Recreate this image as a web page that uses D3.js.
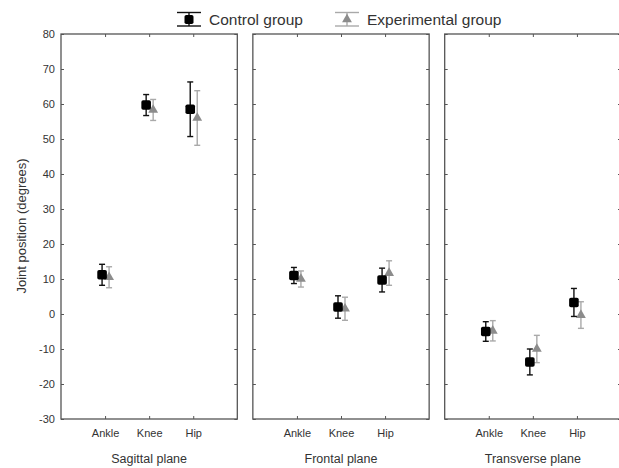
<!DOCTYPE html>
<html>
<head>
<meta charset="utf-8">
<script src="https://cdn.jsdelivr.net/npm/d3@7"></script>
<style>
  body { margin: 0; background: #fff; }
  svg { font-family: "Liberation Sans", Arial, sans-serif; }
</style>
</head>
<body>
<div id="chart"></div>
<script>
var planes = ["Sagittal plane", "Frontal plane", "Transverse plane"];
var joints = ["Ankle", "Knee", "Hip"];
var yTicks = [-30, -20, -10, 0, 10, 20, 30, 40, 50, 60, 70, 80];

// mean and error per plane (rows) and joint (columns)
var controlMean = [[11.2, 59.7, 58.5], [11.0, 2.0, 9.7], [-5.0, -13.7, 3.3]];
var controlErr  = [[3.0, 3.0, 7.8], [2.3, 3.2, 3.4], [2.8, 3.7, 4.0]];
var expMean     = [[10.5, 58.3, 56.0], [10.0, 1.5, 11.7], [-4.8, -10.0, -0.3]];
var expErr      = [[3.0, 3.0, 7.8], [2.3, 3.3, 3.5], [2.9, 3.9, 3.8]];

var width = 619, height = 468;

var svg = d3.select("#chart")
  .append("svg")
    .attr("width", width)
    .attr("height", height);

var y = d3.scaleLinear()
  .domain([-30, 80])
  .range([419, 34]);

var panelX = d3.scaleBand()
  .domain(planes)
  .range([61, 621])
  .paddingInner(0.081)
  .paddingOuter(0);

var bw = panelX.bandwidth();

var x = d3.scalePoint()
  .domain(joints)
  .range([0, bw])
  .padding(1);

var frameColor = "#555";
var textColor = "#333";

var series = [
  { name: "Control group", mean: controlMean, err: controlErr, dx: -3, line: "#111", cap: 3 },
  { name: "Experimental group", mean: expMean, err: expErr, dx: 4, line: "#a9a9a9", cap: 3 }
];

planes.forEach(function(p, pi) {
  var g = svg.append("g")
    .attr("transform", "translate(" + panelX(p) + ",0)");

  g.append("rect")
    .attr("x", 0)
    .attr("y", y(80))
    .attr("width", bw)
    .attr("height", y(-30) - y(80))
    .attr("fill", "none")
    .attr("stroke", frameColor)
    .attr("stroke-width", 1.3);

  // left axis (labels only in first panel), plain hyphen for negatives
  var left = g.append("g")
    .call(d3.axisLeft(y).tickValues(yTicks).tickSize(-3).tickPadding(6)
      .tickFormat(function(d) { return String(d); }));
  left.select(".domain").remove();
  left.selectAll("line").attr("stroke", frameColor);
  left.selectAll("text")
    .attr("fill", textColor)
    .style("font-size", "11px")
    .style("display", pi === 0 ? null : "none");

  var right = g.append("g")
    .attr("transform", "translate(" + bw + ",0)")
    .call(d3.axisRight(y).tickValues(yTicks).tickSize(-3).tickFormat(""));
  right.select(".domain").remove();
  right.selectAll("line").attr("stroke", frameColor);

  var bottom = g.append("g")
    .attr("transform", "translate(0," + y(-30) + ")")
    .call(d3.axisBottom(x).tickSize(-3).tickPadding(10));
  bottom.select(".domain").remove();
  bottom.selectAll("line").attr("stroke", frameColor);
  bottom.selectAll("text")
    .attr("fill", textColor)
    .style("font-size", "11px");

  var top = g.append("g")
    .attr("transform", "translate(0," + y(80) + ")")
    .call(d3.axisTop(x).tickSize(-3).tickFormat(""));
  top.select(".domain").remove();
  top.selectAll("line").attr("stroke", frameColor);

  g.append("text")
    .attr("x", bw / 2)
    .attr("y", 463)
    .attr("text-anchor", "middle")
    .attr("fill", textColor)
    .style("font-size", "12.5px")
    .text(p);

  // draw experimental first, control on top
  series.slice().reverse().forEach(function(s) {
    var pts = joints.map(function(j, ji) {
      return { joint: j, m: s.mean[pi][ji], e: s.err[pi][ji] };
    });
    var sg = g.append("g");
    var cx = function(d) { return x(d.joint) + s.dx; };

    sg.selectAll(".bar")
      .data(pts)
      .enter()
      .append("line")
        .attr("x1", cx).attr("x2", cx)
        .attr("y1", function(d) { return y(d.m + d.e); })
        .attr("y2", function(d) { return y(d.m - d.e); })
        .attr("stroke", s.line)
        .attr("stroke-width", 1.4);

    [1, -1].forEach(function(sign) {
      sg.selectAll(".cap" + sign)
        .data(pts)
        .enter()
        .append("line")
          .attr("x1", function(d) { return cx(d) - s.cap; })
          .attr("x2", function(d) { return cx(d) + s.cap; })
          .attr("y1", function(d) { return y(d.m + sign * d.e); })
          .attr("y2", function(d) { return y(d.m + sign * d.e); })
          .attr("stroke", s.line)
          .attr("stroke-width", 1.4);
    });

    if (s.name === "Control group") {
      sg.selectAll(".mark")
        .data(pts)
        .enter()
        .append("rect")
          .attr("x", function(d) { return cx(d) - 4.8; })
          .attr("y", function(d) { return y(d.m) - 4.8; })
          .attr("width", 9.6)
          .attr("height", 9.6)
          .attr("rx", 1.8)
          .attr("fill", "#000");
    } else {
      sg.selectAll(".mark")
        .data(pts)
        .enter()
        .append("path")
          .attr("transform", function(d) { return "translate(" + cx(d) + "," + y(d.m) + ")"; })
          .attr("d", d3.symbol().type(d3.symbolTriangle).size(42))
          .attr("fill", "#8c8c8c");
    }
  });
});

// y axis title
svg.append("text")
  .attr("transform", "translate(26,226) rotate(-90)")
  .attr("text-anchor", "middle")
  .attr("fill", textColor)
  .style("font-size", "13px")
  .text("Joint position (degrees)");

// legend
var legend = [
  { name: "Control group", x: 177, line: "#111", fill: "#000", tri: false },
  { name: "Experimental group", x: 335, line: "#a9a9a9", fill: "#8c8c8c", tri: true }
];
legend.forEach(function(l) {
  var lg = svg.append("g").attr("transform", "translate(" + l.x + ",0)");
  lg.append("line").attr("x1", 0).attr("x2", 24).attr("y1", 12.5).attr("y2", 12.5).attr("stroke", l.line).attr("stroke-width", 1.4);
  lg.append("line").attr("x1", 0).attr("x2", 24).attr("y1", 26).attr("y2", 26).attr("stroke", l.line).attr("stroke-width", 1.4);
  lg.append("line").attr("x1", 12).attr("x2", 12).attr("y1", 12.5).attr("y2", 26).attr("stroke", l.line).attr("stroke-width", 1.4);
  if (l.tri) {
    lg.append("path")
      .attr("transform", "translate(12,19.5)")
      .attr("d", d3.symbol().type(d3.symbolTriangle).size(42))
      .attr("fill", l.fill);
  } else {
    lg.append("rect").attr("x", 7.5).attr("y", 15).attr("width", 9).attr("height", 9).attr("rx", 1.8).attr("fill", l.fill);
  }
  lg.append("text")
    .attr("x", 32)
    .attr("y", 25)
    .attr("fill", textColor)
    .style("font-size", "15.5px")
    .text(l.name);
});
</script>
</body>
</html>
